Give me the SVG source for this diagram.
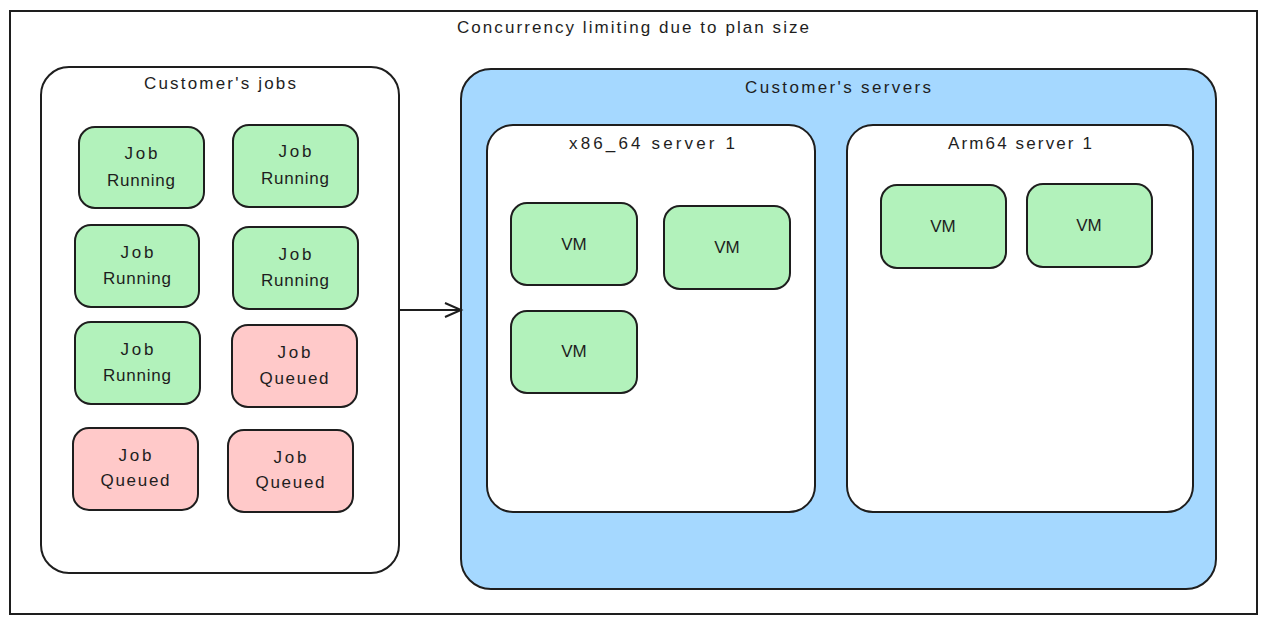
<svg xmlns="http://www.w3.org/2000/svg" width="1266" height="624" viewBox="0 0 1266 624">
<defs>
<style>
.frame{fill:#ffffff;stroke:#1e1e1e;stroke-width:2}
.box{fill:#ffffff;stroke:#1e1e1e;stroke-width:2}
.blue{fill:#a5d8ff;stroke:#1e1e1e;stroke-width:2}
.run{fill:#b2f2bb;stroke:#1e1e1e;stroke-width:2}
.que{fill:#ffc9c9;stroke:#1e1e1e;stroke-width:2}
text{font-family:"Liberation Sans",Arial,sans-serif;font-size:17px;fill:#1e1e1e;text-anchor:middle}
.conn{fill:none;stroke:#1e1e1e;stroke-width:2}
</style>
<marker id="arrow" markerWidth="20" markerHeight="20" refX="17" refY="8" orient="auto" markerUnits="userSpaceOnUse">
<path d="M1,1 L17,8 L1,15" fill="none" stroke="#1e1e1e" stroke-width="2"/>
</marker>
</defs>
<g id="frame">
<rect class="frame" x="10" y="11" width="1247" height="603"/>
<text x="633" y="33" textLength="352" lengthAdjust="spacing">Concurrency limiting due to plan size</text>
</g>
<g id="jobs">
<rect class="box" x="41" y="67" width="358" height="506" rx="28"/>
<text x="220" y="89" textLength="152" lengthAdjust="spacing">Customer's jobs</text>
</g>
<g id="job1"><rect class="run" x="79" y="127" width="125" height="81" rx="16"/><text x="141" y="159" textLength="33" lengthAdjust="spacing">Job</text><text x="141" y="186" textLength="68" lengthAdjust="spacing">Running</text></g>
<g id="job2"><rect class="run" x="233" y="125" width="125" height="82" rx="16"/><text x="295" y="157" textLength="33" lengthAdjust="spacing">Job</text><text x="295" y="184" textLength="68" lengthAdjust="spacing">Running</text></g>
<g id="job3"><rect class="run" x="75" y="225" width="124" height="82" rx="16"/><text x="137" y="258" textLength="33" lengthAdjust="spacing">Job</text><text x="137" y="284" textLength="68" lengthAdjust="spacing">Running</text></g>
<g id="job4"><rect class="run" x="233" y="227" width="125" height="82" rx="16"/><text x="295" y="260" textLength="33" lengthAdjust="spacing">Job</text><text x="295" y="286" textLength="68" lengthAdjust="spacing">Running</text></g>
<g id="job5"><rect class="run" x="75" y="322" width="125" height="82" rx="16"/><text x="137" y="355" textLength="33" lengthAdjust="spacing">Job</text><text x="137" y="381" textLength="68" lengthAdjust="spacing">Running</text></g>
<g id="job6"><rect class="que" x="232" y="325" width="125" height="82" rx="16"/><text x="294" y="358" textLength="33" lengthAdjust="spacing">Job</text><text x="294" y="384" textLength="69" lengthAdjust="spacing">Queued</text></g>
<g id="job7"><rect class="que" x="73" y="428" width="125" height="82" rx="16"/><text x="135" y="461" textLength="33" lengthAdjust="spacing">Job</text><text x="135" y="486" textLength="69" lengthAdjust="spacing">Queued</text></g>
<g id="job8"><rect class="que" x="228" y="430" width="125" height="82" rx="16"/><text x="290" y="463" textLength="33" lengthAdjust="spacing">Job</text><text x="290" y="488" textLength="69" lengthAdjust="spacing">Queued</text></g>
<g id="servers">
<rect class="blue" x="461" y="69" width="755" height="520" rx="30"/>
<text x="838" y="93" textLength="186" lengthAdjust="spacing">Customer's servers</text>
</g>
<g id="x86">
<rect class="box" x="487" y="125" width="328" height="387" rx="26"/>
<text x="652" y="149" textLength="166" lengthAdjust="spacing">x86_64 server 1</text>
</g>
<g id="arm">
<rect class="box" x="847" y="125" width="346" height="387" rx="26"/>
<text x="1020" y="149" textLength="144" lengthAdjust="spacing">Arm64 server 1</text>
</g>
<g id="vm1"><rect class="run" x="511" y="203" width="126" height="82" rx="16"/><text x="574" y="250">VM</text></g>
<g id="vm2"><rect class="run" x="664" y="206" width="126" height="83" rx="16"/><text x="727" y="253">VM</text></g>
<g id="vm3"><rect class="run" x="511" y="311" width="126" height="82" rx="16"/><text x="574" y="357">VM</text></g>
<g id="vm4"><rect class="run" x="881" y="185" width="125" height="83" rx="16"/><text x="943" y="232">VM</text></g>
<g id="vm5"><rect class="run" x="1027" y="184" width="125" height="83" rx="16"/><text x="1089" y="231">VM</text></g>
<g id="connectors">
<path class="conn" d="M400,310 L461,310" marker-end="url(#arrow)"/>
</g>
</svg>
